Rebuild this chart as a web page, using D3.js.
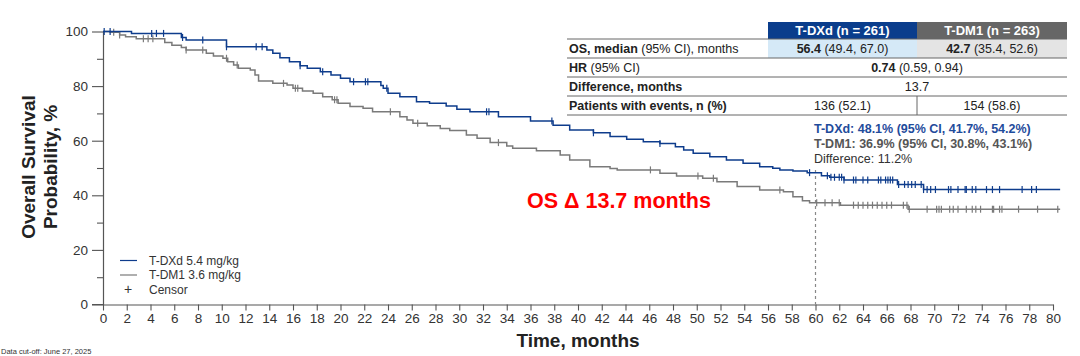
<!DOCTYPE html>
<html><head><meta charset="utf-8">
<script src="https://cdn.jsdelivr.net/npm/d3@7"></script>
<style>body{margin:0;background:#fff}svg{display:block;font-family:"Liberation Sans",Arial,sans-serif}</style>
</head><body><svg id="c" width="1080" height="356"></svg>
<script>
// ---- data ----
const xTicks = d3.range(0, 81, 2);
const yMajorTicks = [0, 20, 40, 60, 80, 100];
const yMinorTicks = [10, 30, 50, 70, 90];
// T-DXd step points [months, survival %]
const tdxdSteps = [[0,100],[2.4,99.3],[6.6,97.8],[7.0,96.9],[10.4,94.4],[13.8,93.2],[14.3,92.0],[14.9,90.4],[15.7,88.9],[16.6,87.5],[17.2,86.5],[18.3,85.3],[19.2,84.1],[20.0,82.9],[20.8,81.6],[23.4,80.2],[23.6,79.2],[24.0,77.4],[25.0,76.1],[26.4,74.3],[27.5,73.7],[28.9,72.7],[29.8,71.5],[30.9,70.6],[33.3,68.8],[36.0,67.2],[37.9,65.7],[39.3,63.9],[41.3,62.9],[42.7,61.5],[44.1,60.5],[45.5,59.6],[46.9,59.0],[48.2,57.8],[48.9,56.6],[49.7,55.4],[51.1,54.1],[52.5,52.9],[53.9,51.7],[55.3,50.5],[56.4,49.9],[57.0,49.3],[58.1,48.9],[59.3,48.3],[60.5,47.2],[61.2,46.6],[62.4,45.6],[66.9,44.0],[69.1,42.1],[80.6,42.1]];
// T-DM1 step points
const tdm1Steps = [[0,100],[0.6,99.7],[1.4,98.7],[1.9,98.1],[2.8,97.3],[5.2,96.0],[5.8,95.0],[6.6,94.1],[7.0,93.2],[8.7,92.0],[9.3,91.0],[10.1,90.2],[10.5,88.9],[11.0,87.7],[11.4,86.5],[12.4,85.9],[12.8,84.1],[13.1,81.9],[14.3,81.0],[15.5,80.4],[16.0,79.2],[16.8,78.2],[17.7,77.4],[18.5,76.1],[19.3,75.0],[19.8,73.7],[20.8,72.5],[21.9,71.9],[22.7,70.6],[25.0,68.8],[25.6,67.6],[26.1,66.4],[27.3,65.5],[28.4,64.5],[29.2,63.7],[30.6,62.1],[31.5,60.9],[32.6,59.3],[34.0,58.1],[34.5,57.2],[36.5,56.3],[38.5,54.8],[39.3,52.9],[41.0,50.5],[42.7,49.8],[43.3,49.3],[46.9,48.1],[48.3,47.1],[50.5,46.2],[51.7,45.0],[53.4,43.2],[55.3,41.9],[57.3,41.3],[58.1,39.5],[58.9,38.0],[59.5,37.3],[62.1,36.4],[67.8,34.9],[80.6,34.9]];
// censor times
const tdxdCensor = [0.1,0.6,4.1,4.5,5.1,6.7,8.4,10.4,12.9,13.4,16.6,18.5,21.1,22.1,22.3,23.9,32.3,32.5,37.8,41.3,46.9,59.5,61.0,61.3,61.6,62.0,62.2,62.4,63.2,63.4,64.0,64.4,65.3,65.5,65.9,66.1,66.3,66.5,67.0,67.5,67.8,68.1,68.4,68.9,69.1,69.4,69.7,70.1,71.2,71.4,72.0,72.6,72.7,73.2,73.5,74.4,74.9,75.5,77.4,78.2,78.6];
const tdm1Censor = [0.9,1.4,3.4,3.8,4.2,7.0,8.4,10.4,11.3,15.2,16.2,16.4,19.5,19.7,24.2,26.5,33.3,46.1,50.1,51.4,57.0,60.1,60.8,61.4,62.0,63.2,63.6,64.0,64.4,64.8,65.2,65.6,66.0,66.4,67.4,67.7,67.9,69.4,70.2,70.4,70.6,71.3,71.6,72.0,72.7,73.2,73.5,73.9,74.9,75.0,75.5,75.7,77.1,78.7,80.4];
const tableHeaders = ["T-DXd (n = 261)", "T-DM1 (n = 263)"];
const seriesLabels = ["T-DXd 5.4 mg/kg", "T-DM1 3.6 mg/kg", "Censor"];
const landmark = 60;

// ---- layout ----
const svg = d3.select("#c");
const x = d3.scaleLinear().domain([0, 80]).range([103, 1053]);
const y = d3.scaleLinear().domain([0, 100]).range([304.5, 31.5]);
const BLUE = "#0e3c8c", GRAY = "#7a7a7a", AX = "#555";

// y axis
svg.append("g").attr("transform", "translate(103,0)")
  .call(d3.axisLeft(y).tickValues(yMajorTicks).tickSize(11).tickSizeOuter(0).tickPadding(4));
svg.append("g").attr("transform", "translate(103,0)")
  .call(d3.axisLeft(y).tickValues(yMinorTicks).tickSize(6).tickFormat("").tickSizeOuter(0))
  .select(".domain").remove();
// x axis
svg.append("g").attr("transform", "translate(0,304.5)")
  .call(d3.axisBottom(x).tickValues(xTicks).tickSize(6).tickSizeOuter(0).tickPadding(3));
svg.append("line").attr("x1", 92).attr("x2", 103).attr("y1", 304.5).attr("y2", 304.5).attr("stroke", AX);
svg.selectAll(".domain").attr("stroke", AX).attr("stroke-width", 1.2);
svg.selectAll(".tick line").attr("stroke", AX).attr("stroke-width", 1.1);
svg.selectAll(".tick text").attr("font-size", 13.5).attr("fill", "#333").attr("font-family", "Liberation Sans, Arial, sans-serif");

// axis titles
svg.append("text").attr("x", 578).attr("y", 347).attr("text-anchor", "middle")
  .attr("font-size", 19).attr("font-weight", "bold").attr("fill", "#222").text("Time, months");
const yt = svg.append("text").attr("transform", "translate(0,167) rotate(-90)")
  .attr("text-anchor", "middle").attr("font-size", 19).attr("font-weight", "bold").attr("fill", "#222");
yt.append("tspan").attr("x", 0).attr("y", 35).text("Overall Survival");
yt.append("tspan").attr("x", 0).attr("y", 57).text("Probability, %");

// landmark line
svg.append("line").attr("x1", x(landmark)).attr("x2", x(landmark)).attr("y1", 170).attr("y2", 304)
  .attr("stroke", "#888").attr("stroke-width", 1.2).attr("stroke-dasharray", "3,3");

// curves
const line = d3.line().x(d => x(d[0])).y(d => y(d[1])).curve(d3.curveStepAfter);
function survAt(steps, t) { let s = steps[0][1]; for (const p of steps) { if (p[0] <= t) s = p[1]; } return s; }
function drawSeries(steps, censor, color) {
  svg.append("path").datum(steps).attr("d", line).attr("fill", "none").attr("stroke", color).attr("stroke-width", 1.5);
  svg.append("g").selectAll("line").data(censor).join("line")
    .attr("x1", d => x(d)).attr("x2", d => x(d))
    .attr("y1", d => y(survAt(steps, d)) - 3.5).attr("y2", d => y(survAt(steps, d)) + 3.5)
    .attr("stroke", color).attr("stroke-width", 1.2);
}
drawSeries(tdm1Steps, tdm1Censor, GRAY);
drawSeries(tdxdSteps, tdxdCensor, BLUE);

// legend
const lg = svg.append("g").attr("font-size", 12).attr("fill", "#333");
lg.append("line").attr("x1", 120).attr("x2", 137).attr("y1", 260.5).attr("y2", 260.5).attr("stroke", BLUE).attr("stroke-width", 1.2);
lg.append("line").attr("x1", 120).attr("x2", 137).attr("y1", 275).attr("y2", 275).attr("stroke", GRAY).attr("stroke-width", 1.2);
lg.append("text").attr("x", 124).attr("y", 294).attr("font-size", 14).text("+");
[260.5, 275, 289.5].forEach((yy, i) => lg.append("text").attr("x", 149).attr("y", yy + 4.3).text(seriesLabels[i]));

// red annotation
svg.append("text").attr("x", 527).attr("y", 208).attr("font-size", 21.5).attr("font-weight", "bold")
  .attr("fill", "#ff0000").text("OS Δ 13.7 months");

// table
const tb = svg.append("g").attr("font-size", 12.5).attr("fill", "#222");
const c0 = 567, c1 = 768, c2 = 917, c3 = 1067;
const rows = [39, 58, 77, 96, 115];
tb.append("rect").attr("x", c1).attr("y", 22).attr("width", c2 - c1).attr("height", 17).attr("fill", "#0a3d8c");
tb.append("rect").attr("x", c2).attr("y", 22).attr("width", c3 - c2).attr("height", 17).attr("fill", "#666");
tb.append("rect").attr("x", c1).attr("y", 39).attr("width", c2 - c1).attr("height", 19).attr("fill", "#d5e9f7");
tb.append("rect").attr("x", c2).attr("y", 39).attr("width", c3 - c2).attr("height", 19).attr("fill", "#e4e4e4");
tableHeaders.forEach((h, i) => tb.append("text").attr("x", i ? (c2 + c3) / 2 : (c1 + c2) / 2).attr("y", 35)
  .attr("text-anchor", "middle").attr("fill", "#fff").attr("font-weight", "bold").attr("font-size", 13).text(h));
rows.forEach(r => tb.append("line").attr("x1", c0).attr("x2", c3).attr("y1", r).attr("y2", r).attr("stroke", "#666").attr("stroke-width", 1));
tb.append("line").attr("x1", c2).attr("x2", c2).attr("y1", 96).attr("y2", 115).attr("stroke", "#666");
function rich(xp, yp, parts, anchor) {
  const t = tb.append("text").attr("x", xp).attr("y", yp).attr("text-anchor", anchor || "start");
  parts.forEach(p => t.append("tspan").attr("font-weight", p[1] ? "bold" : "normal").text(p[0]));
}
rich(c0 + 2, 53, [["OS, median", 1], [" (95% CI), months", 0]]);
rich(c0 + 2, 72, [["HR", 1], [" (95% CI)", 0]]);
rich(c0 + 2, 91, [["Difference, months", 1]]);
rich(c0 + 2, 110, [["Patients with events, n (%)", 1]]);
rich((c1 + c2) / 2, 53, [["56.4", 1], [" (49.4, 67.0)", 0]], "middle");
rich((c2 + c3) / 2, 53, [["42.7", 1], [" (35.4, 52.6)", 0]], "middle");
rich(c2, 72, [["0.74", 1], [" (0.59, 0.94)", 0]], "middle");
rich(c2, 91, [["13.7", 0]], "middle");
rich((c1 + c2) / 2, 110, [["136 (52.1)", 0]], "middle");
rich((c2 + c3) / 2, 110, [["154 (58.6)", 0]], "middle");

// landmark annotation
const an = svg.append("g").attr("font-size", 12.5);
an.append("text").attr("x", 814).attr("y", 132.5).attr("font-weight", "bold").attr("fill", "#1f4c9c").text("T-DXd: 48.1% (95% CI, 41.7%, 54.2%)");
an.append("text").attr("x", 814).attr("y", 148).attr("font-weight", "bold").attr("fill", "#555").text("T-DM1: 36.9% (95% CI, 30.8%, 43.1%)");
an.append("text").attr("x", 814).attr("y", 162.5).attr("fill", "#333").text("Difference: 11.2%");

// footnote
svg.append("text").attr("x", 1).attr("y", 354).attr("font-size", 7.5).attr("fill", "#333").text("Data cut-off: June 27, 2025");
</script></body></html>
